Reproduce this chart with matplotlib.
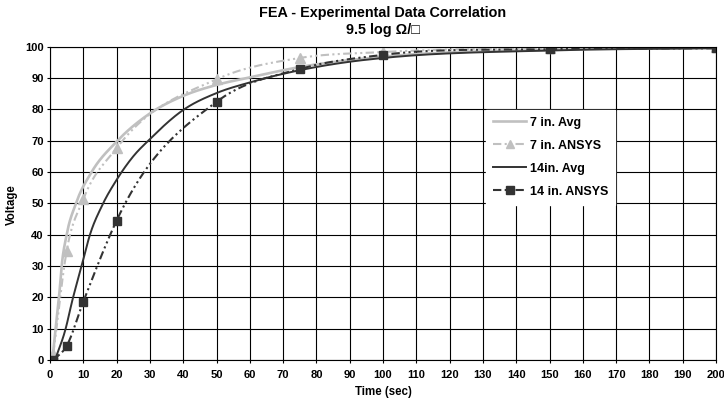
import numpy as np
import matplotlib
matplotlib.use("Agg")
import matplotlib.pyplot as plt
from matplotlib.lines import Line2D

plt.rcParams['font.family'] = ['Liberation Sans', 'DejaVu Sans']
plt.rcParams['font.weight'] = 'bold'

avg7_t = [0.7, 1.7, 2.7, 3.5, 5, 7.8, 12.5, 20, 30, 40, 50, 60, 75, 100, 150, 200]
avg7_v = [0, 10, 20, 30, 40, 50, 60, 69.7, 78.7, 84.3, 87.8, 90.2, 93.5, 96.8, 99.0, 99.7]
avg14_t = [1.5, 4.7, 6.7, 9.5, 12, 15.5, 20, 25, 30, 40, 50, 60, 75, 90, 100, 150, 200]
avg14_v = [0, 10, 19, 30, 40, 49, 57.5, 65, 70.5, 79.8, 85.2, 88.6, 92.5, 95.2, 96.4, 98.8, 99.5]

# ANSYS model points
ansys_t = [1, 5, 10, 20, 50, 75, 100, 150, 200]
ansys7_v = [2, 34.8, 51.3, 67.6, 89.6, 96.4, 98.3, 99.6, 99.9]
ansys14_v = [0, 4.5, 18.6, 44.5, 82.4, 92.9, 97.4, 99.2, 99.5]

LIGHT = '#c0c0c0'
DARK = '#333333'


def smooth(xs, ys, n=30):
    # smoothed line through the points (cubic hermite, 3-point slopes)
    x = np.asarray(xs, float)
    y = np.asarray(ys, float)
    h = np.diff(x)
    d = np.diff(y) / h
    m = np.empty_like(y)
    m[0], m[-1] = d[0], d[-1]
    m[1:-1] = (d[:-1] * h[1:] + d[1:] * h[:-1]) / (h[:-1] + h[1:])
    out_x, out_y = [x[0]], [y[0]]
    t = np.linspace(0, 1, n)[1:]
    for i in range(len(x) - 1):
        h00 = 2 * t**3 - 3 * t**2 + 1
        h10 = t**3 - 2 * t**2 + t
        h01 = -2 * t**3 + 3 * t**2
        h11 = t**3 - t**2
        out_x.extend(x[i] + t * h[i])
        out_y.extend(h00 * y[i] + h10 * h[i] * m[i] + h01 * y[i + 1] + h11 * h[i] * m[i + 1])
    return np.array(out_x), np.array(out_y)


dashdotdot = (0, (4, 1.6, 1, 1.6, 1, 1.6))

fig = plt.figure(figsize=(7.24, 4.03), dpi=100)
ax = fig.add_axes([50 / 724, 43 / 403, 666 / 724, 313.3 / 403])

sx, sy = smooth(avg7_t, avg7_v)
ax.plot(sx, sy, color=LIGHT, lw=1.9)
sx, sy = smooth(ansys_t, ansys7_v)
ax.plot(sx, sy, color=LIGHT, lw=1.5, linestyle=dashdotdot)
ax.plot(ansys_t, ansys7_v, ls='none', marker='^', ms=6.5, color=LIGHT)

sx, sy = smooth(avg14_t, avg14_v)
ax.plot(sx, sy, color=DARK, lw=1.4)
sx, sy = smooth(ansys_t, ansys14_v)
ax.plot(sx, sy, color=DARK, lw=1.5, linestyle=dashdotdot)
ax.plot(ansys_t, ansys14_v, ls='none', marker='s', ms=6, color=DARK)

ax.set_xlim(0, 200)
ax.set_ylim(0, 100)
ax.set_xticks(np.arange(0, 201, 10))
ax.set_yticks(np.arange(0, 101, 10))
ax.grid(True, color='black', lw=0.8)
ax.set_axisbelow(True)
for s in ax.spines.values():
    s.set_color('black')
    s.set_linewidth(0.8)
ax.tick_params(direction='out', length=2.5, width=0.8, labelsize=8, pad=2)
ax.tick_params(axis='x', pad=5)
for lbl in ax.get_xticklabels() + ax.get_yticklabels():
    lbl.set_fontweight('bold')

fig.text(383 / 724, 1 - 13 / 403, 'FEA - Experimental Data Correlation', ha='center', va='center',
         fontsize=10.4, fontweight='bold')
fig.text(383 / 724, 1 - 30 / 403, '9.5 log Ω/□', ha='center', va='center',
         fontsize=10.4, fontweight='bold')
fig.text(12 / 724, 1 - 205 / 403, 'Voltage', rotation=90, ha='center', va='center',
         fontsize=8.3, fontweight='bold')
fig.text(383 / 724, 1 - 392 / 403, 'Time (sec)', ha='center', va='center',
         fontsize=8.3, fontweight='bold')

handles = [
    Line2D([], [], color=LIGHT, lw=1.9),
    Line2D([], [], color=LIGHT, lw=1.5, linestyle=dashdotdot, marker='^', ms=5.5),
    Line2D([], [], color=DARK, lw=1.4),
    Line2D([], [], color=DARK, lw=1.5, linestyle=dashdotdot, marker='s', ms=5.5),
]
labels = ['7 in. Avg', '7 in. ANSYS', '14in. Avg', '14 in. ANSYS']
leg = ax.legend(handles, labels, loc='upper left', bbox_to_anchor=(0.645, 0.818),
                frameon=True, fancybox=False, framealpha=1, edgecolor='white',
                prop={'size': 9, 'weight': 'bold'}, handlelength=2.7,
                handletextpad=0.3, labelspacing=0.88, borderpad=0.55, numpoints=1)

fig.savefig('out.png', dpi=100)
